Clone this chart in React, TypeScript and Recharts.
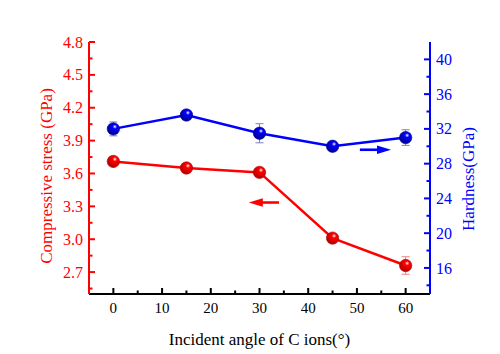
import React from 'react'
import { LineChart, Line, XAxis, YAxis, ErrorBar, ReferenceLine } from 'recharts'

// data
const angles = [0, 15, 30, 45, 60]
const stress = [3.71, 3.65, 3.61, 3.01, 2.76]
const stressErr = [0.02, 0.02, 0.02, 0.02, 0.08]
const hardness = [32.0, 33.6, 31.5, 30.0, 31.0]
const hardnessErr = [0.8, 0.3, 1.1, 0.3, 0.9]

const xMajor = [0, 10, 20, 30, 40, 50, 60]
const xMinor = [5, 15, 25, 35, 45, 55]
const leftMajor = [2.7, 3.0, 3.3, 3.6, 3.9, 4.2, 4.5, 4.8]
const leftMinor = [2.55, 2.85, 3.15, 3.45, 3.75, 4.05, 4.35, 4.65]
const rightMajor = [16, 20, 24, 28, 32, 36, 40]
const rightMinor = [14, 18, 22, 26, 30, 34, 38]

const data = angles.map((a, i) => ({
  angle: a,
  stress: stress[i],
  stressErr: stressErr[i],
  hardness: hardness[i],
  hardnessErr: hardnessErr[i],
}))

const FONT = '"Liberation Serif", "Times New Roman", serif'
const RED = '#ff0000'
const BLUE = '#0000ff'
const M = 6 // tick margin

const isMajor = (list: number[], v: number) => list.some((m) => Math.abs(m - v) < 1e-6)

const LeftTick = (props: any) => {
  const { x, y, payload } = props
  const ax = x + M
  const major = isMajor(leftMajor, payload.value)
  return (
    <g>
      <line x1={ax} x2={ax + (major ? 6 : 3.5)} y1={y} y2={y} stroke={RED} strokeWidth={2} />
      {major && (
        <text x={x} y={y} dy="0.35em" textAnchor="end" fill={RED} fontSize={16} fontFamily={FONT}>
          {payload.value.toFixed(1)}
        </text>
      )}
    </g>
  )
}

const RightTick = (props: any) => {
  const { x, y, payload } = props
  const ax = x - M
  const major = isMajor(rightMajor, payload.value)
  return (
    <g>
      <line x1={ax} x2={ax - (major ? 6 : 3.5)} y1={y} y2={y} stroke={BLUE} strokeWidth={2} />
      {major && (
        <text x={x} y={y} dy="0.35em" textAnchor="start" fill={BLUE} fontSize={16} fontFamily={FONT}>
          {payload.value}
        </text>
      )}
    </g>
  )
}

const BottomTick = (props: any) => {
  const { x, y, payload } = props
  const ay = y - 8
  const major = isMajor(xMajor, payload.value)
  return (
    <g>
      <line x1={x} x2={x} y1={ay} y2={ay - (major ? 6 : 3.5)} stroke="#000" strokeWidth={2} />
      {major && (
        <text x={x} y={y} dy="0.71em" textAnchor="middle" fill="#000" fontSize={15} fontFamily={FONT}>
          {payload.value}
        </text>
      )}
    </g>
  )
}

const makeDot = (color: string, edge: string, id: string) => (props: any) => {
  const { cx, cy, index } = props
  if (cx == null || cy == null) return null
  return (
    <g key={`${id}-${index}`}>
      <defs>
        <radialGradient id={id} cx="0.62" cy="0.32" r="0.7">
          <stop offset="0" stopColor="#ffffff" />
          <stop offset="0.25" stopColor={color} />
          <stop offset="1" stopColor={edge} />
        </radialGradient>
      </defs>
      <circle cx={cx} cy={cy} r={6.2} fill={`url(#${id})`} stroke={edge} strokeWidth={0.6} />
    </g>
  )
}

const Arrow = (color: string) => (props: any) => {
  const { x1, y1, x2, y2 } = props
  const dir = x2 > x1 ? 1 : -1
  const headLen = 14
  const baseX = x2 - dir * headLen
  return (
    <g>
      <line x1={x1} y1={y1} x2={baseX + dir * 2} y2={y2} stroke={color} strokeWidth={2.6} />
      <polygon points={`${x2},${y2} ${baseX},${y2 - 4.2} ${baseX},${y2 + 4.2}`} fill={color} />
    </g>
  )
}

const VLabel = (text: string, color: string, dx: number, dy: number) => (props: any) => {
  const vb = props.viewBox
  const cx = vb.x + vb.width / 2 + dx
  const cy = vb.y + vb.height / 2 + dy
  return (
    <text
      x={cx}
      y={cy}
      textAnchor="middle"
      dominantBaseline="central"
      transform={`rotate(-90 ${cx} ${cy})`}
      fill={color}
      fontSize={17}
      fontFamily={FONT}
    >
      {text}
    </text>
  )
}

const XLabel = (props: any) => {
  const vb = props.viewBox
  return (
    <text x={vb.x + vb.width / 2} y={345} textAnchor="middle" fill="#000" fontSize={17} fontFamily={FONT}>
      Incident angle of C ions(°)
    </text>
  )
}

const VLabel_left = VLabel('Compressive stress (GPa)', RED, 2, 8)
const VLabel_right = VLabel('Hardness(GPa)', BLUE, 3, 11)

export default function App() {
  return (
    <div style={{ position: 'absolute', left: 0, top: 0, width: 500, height: 354, background: '#fff' }}>
      <LineChart width={500} height={354} data={data} margin={{ top: 42, right: 0, bottom: 0, left: 0 }}>
        <XAxis
          dataKey="angle"
          type="number"
          domain={[-5, 65]}
          ticks={[...xMajor, ...xMinor]}
          interval={0}
          height={60}
          tickSize={0}
          tickMargin={8}
          tick={<BottomTick />}
          axisLine={{ stroke: '#000', strokeWidth: 2 }}
          label={<XLabel />}
        />
        <XAxis
          xAxisId="top"
          orientation="top"
          type="number"
          domain={[-5, 65]}
          height={0}
          tick={false}
          tickLine={false}
          axisLine={{ stroke: '#000', strokeWidth: 2 }}
        />
        <YAxis
          yAxisId="left"
          type="number"
          domain={[2.5, 4.8]}
          ticks={[...leftMajor, ...leftMinor]}
          interval={0}
          width={89}
          tickSize={0}
          tickMargin={M}
          tick={<LeftTick />}
          axisLine={{ stroke: RED, strokeWidth: 2 }}
          label={<VLabel_left />}
        />
        <YAxis
          yAxisId="right"
          orientation="right"
          type="number"
          domain={[13, 42]}
          ticks={[...rightMajor, ...rightMinor]}
          interval={0}
          width={70}
          tickSize={0}
          tickMargin={M}
          tick={<RightTick />}
          axisLine={{ stroke: BLUE, strokeWidth: 2 }}
          label={<VLabel_right />}
        />
        <ReferenceLine
          yAxisId="left"
          segment={[{ x: 34, y: 3.335 }, { x: 27.8, y: 3.335 }]}
          ifOverflow="visible"
          shape={Arrow(RED)}
        />
        <ReferenceLine
          yAxisId="right"
          segment={[{ x: 50.6, y: 29.6 }, { x: 57, y: 29.6 }]}
          ifOverflow="visible"
          shape={Arrow(BLUE)}
        />
        <Line
          yAxisId="left"
          dataKey="stress"
          stroke={RED}
          strokeWidth={2.5}
          dot={makeDot(RED, '#b00000', 'gRed')}
          isAnimationActive={false}
        >
          <ErrorBar dataKey="stressErr" direction="y" width={4} stroke="#f08080" strokeWidth={1} />
        </Line>
        <Line
          yAxisId="right"
          dataKey="hardness"
          stroke={BLUE}
          strokeWidth={2.5}
          dot={makeDot(BLUE, '#00008b', 'gBlue')}
          isAnimationActive={false}
        >
          <ErrorBar dataKey="hardnessErr" direction="y" width={4} stroke="#8080c0" strokeWidth={1} />
        </Line>
      </LineChart>
    </div>
  )
}
